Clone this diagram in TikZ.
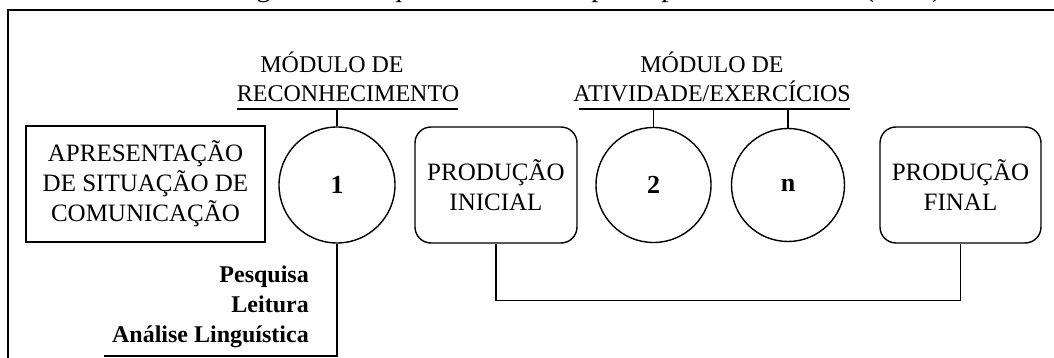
\documentclass[tikz,border=0pt]{standalone}
\usepackage{fontspec}
\setmainfont{Liberation Serif}
\begin{document}
\begin{tikzpicture}[x=1pt,y=-1pt,
  boxtext/.style={font=\fontsize{25}{30}\selectfont, align=center, inner sep=0pt},
  plainbox/.style={boxtext, draw, line width=1.4pt, minimum width=239pt, minimum height=116pt},
  roundbox/.style={boxtext, draw, line width=1.4pt, rounded corners=16pt, minimum width=162pt, minimum height=116pt},
  module/.style={circle, draw, line width=1.4pt, inner sep=0pt, font=\fontsize{26}{30}\selectfont\bfseries},
  heading/.style={font=\fontsize{24}{29}\selectfont, anchor=base, inner sep=0pt},
  activity/.style={font=\fontsize{24}{30}\selectfont\bfseries, anchor=base east, inner sep=0pt},
  link/.style={line width=1.4pt}
]
\useasboundingbox (0,0) rectangle (1054,358);
\clip (0,0) rectangle (1054,358);

% caption line (only its lower edge falls on the page)
\node[font=\fontsize{29}{32}\selectfont, anchor=base west, inner sep=0pt] (caption) at (232,-3)
  {Figura 3 – Esquema da SD adaptada por Costa-Hübes (2009)};

% outer frame
\draw[line width=2.6pt] (8,370) -- (8,10) -- (1070,10);

% main sequence
\node[plainbox] (pres) at (145.5,184)
  {\fontsize{25}{29.5}\selectfont APRESENTAÇÃO\\DE SITUAÇÃO DE\\COMUNICAÇÃO};
\node[module, minimum size=116pt] (m1) at (337,185) {1};
\node[roundbox] (pini) at (496,185) {\fontsize{25}{32}\selectfont PRODUÇÃO\\INICIAL};
\node[module, minimum size=115pt] (m2) at (653.5,185) {2};
\node[module, minimum size=113pt] (mn) at (788,185) {n};
\node[roundbox, minimum width=161pt] (pfin) at (960.5,185) {\fontsize{25}{32}\selectfont PRODUÇÃO\\FINAL};

% module headings
\node[heading] (h1a) at (332,73) {MÓDULO DE};
\node[heading] (h1b) at (348,102) {RECONHECIMENTO};
\node[heading] (h2a) at (712,73) {MÓDULO DE};
\node[heading] (h2b) at (712,102) {ATIVIDADE/EXERCÍCIOS};

\coordinate (u1l) at (237,109);
\coordinate (u1r) at (458,109);
\coordinate (u2l) at (579,109);
\coordinate (u2r) at (850,109);
\draw[link] (u1l) -- (u1r);
\draw[link] (u2l) -- (u2r);
\draw[link] (m1.north) -- (m1.north |- u1l);
\draw[link] (m2.north) -- (m2.north |- u2l);
\draw[link] (mn.north) -- (mn.north |- u2l);

% activities of the recognition module
\node[activity] (a1) at (309,282) {Pesquisa};
\node[activity] (a2) at (309,312) {Leitura};
\node[activity] (a3) at (309,342) {Análise Linguística};
\coordinate (tail) at (104,356);
\draw[link] (m1.south) |- (tail);

% first and final production linked
\draw[link] (pini.south) -- ++(0,57) -| (pfin.south);
\end{tikzpicture}
\end{document}
